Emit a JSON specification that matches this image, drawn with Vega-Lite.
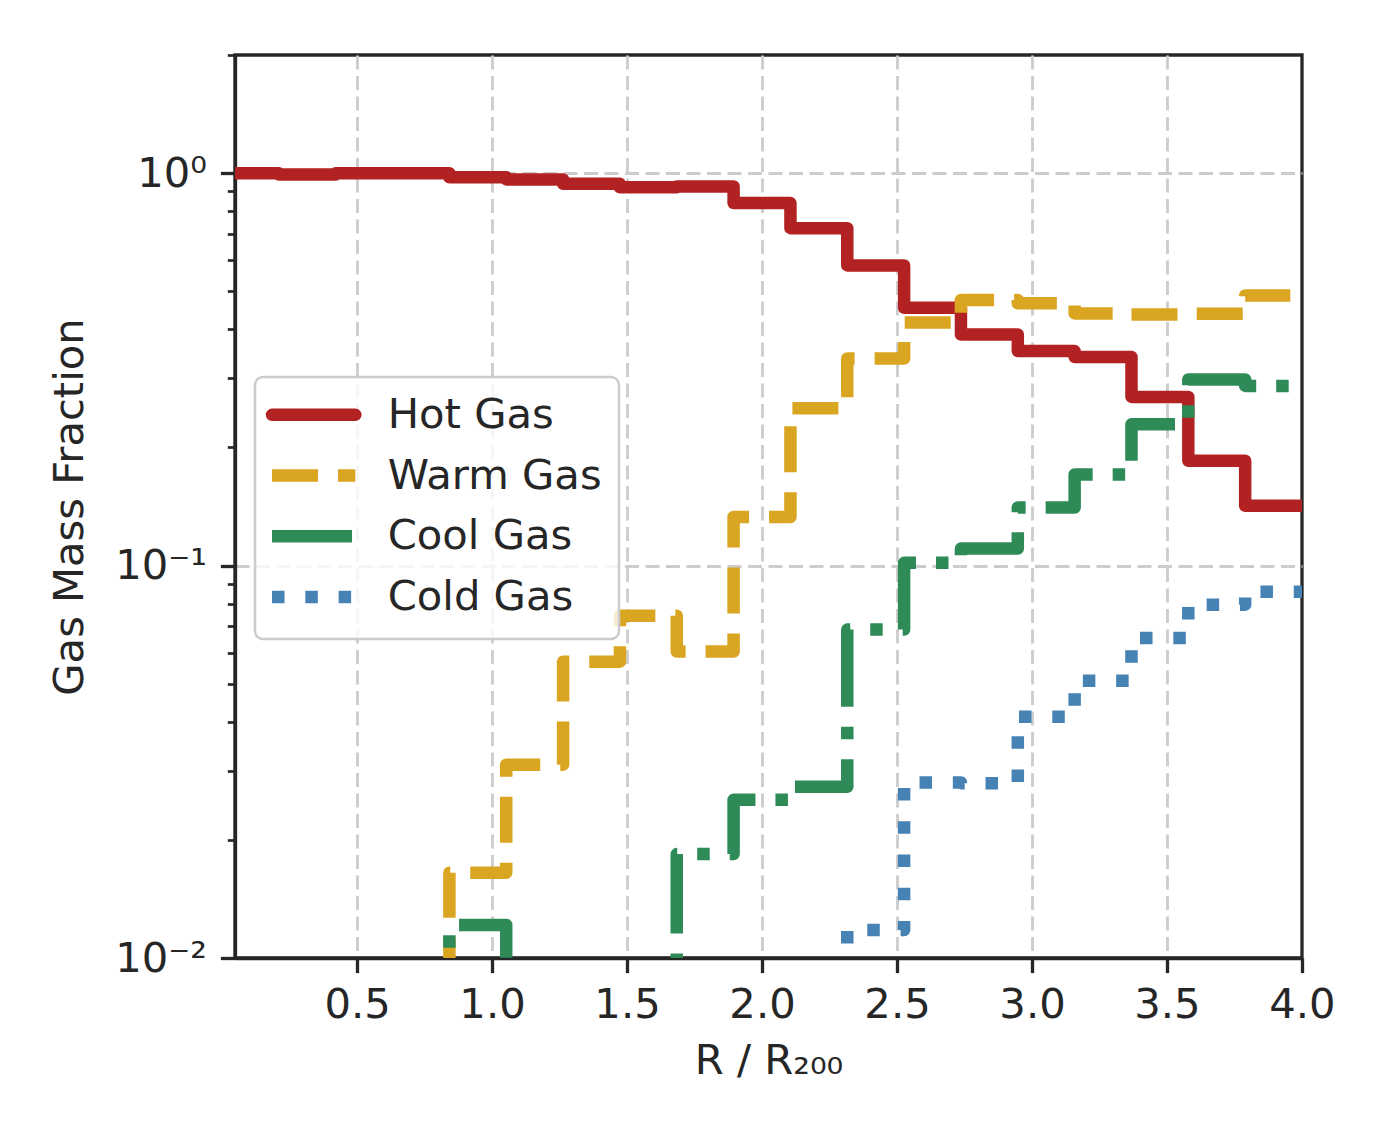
{
  "$schema": "https://vega.github.io/schema/vega-lite/v6.json",
  "width": 1067,
  "height": 903,
  "autosize": {"type": "none"},
  "padding": {"left": 235, "top": 55, "right": 78, "bottom": 182},
  "background": "white",
  "config": {
    "font": "DejaVu Sans",
    "view": {"stroke": "#262626", "strokeWidth": 3.3},
    "axis": {
      "domainColor": "#262626",
      "domainWidth": 3.3,
      "tickColor": "#262626",
      "tickWidth": 3.3,
      "tickSize": 14.6,
      "labelFont": "DejaVu Sans",
      "labelFontSize": 41.7,
      "labelColor": "#262626",
      "labelPadding": 14,
      "labelFlush": false,
      "labelOverlap": false,
      "titleFont": "DejaVu Sans",
      "titleFontSize": 41.7,
      "titleFontWeight": "normal",
      "titleColor": "#262626",
      "gridColor": "#cccccc",
      "gridDash": [14, 6.5],
      "gridWidth": 2.8
    }
  },
  "data": {
    "values": [
      {"series": "Hot Gas", "r": 0, "frac": 1.0},
      {"series": "Hot Gas", "r": 0.2105, "frac": 0.992},
      {"series": "Hot Gas", "r": 0.4211, "frac": 1.0},
      {"series": "Hot Gas", "r": 0.6316, "frac": 1.0},
      {"series": "Hot Gas", "r": 0.8421, "frac": 0.976},
      {"series": "Hot Gas", "r": 1.0526, "frac": 0.964},
      {"series": "Hot Gas", "r": 1.2632, "frac": 0.939},
      {"series": "Hot Gas", "r": 1.4737, "frac": 0.92},
      {"series": "Hot Gas", "r": 1.6842, "frac": 0.925},
      {"series": "Hot Gas", "r": 1.8947, "frac": 0.839},
      {"series": "Hot Gas", "r": 2.1053, "frac": 0.724},
      {"series": "Hot Gas", "r": 2.3158, "frac": 0.582},
      {"series": "Hot Gas", "r": 2.5263, "frac": 0.454},
      {"series": "Hot Gas", "r": 2.7368, "frac": 0.388},
      {"series": "Hot Gas", "r": 2.9474, "frac": 0.352},
      {"series": "Hot Gas", "r": 3.1579, "frac": 0.34},
      {"series": "Hot Gas", "r": 3.3684, "frac": 0.269},
      {"series": "Hot Gas", "r": 3.5789, "frac": 0.185},
      {"series": "Hot Gas", "r": 3.7895, "frac": 0.142},
      {"series": "Hot Gas", "r": 4.0, "frac": 0.142},

      {"series": "Warm Gas", "r": 0, "frac": 0.001},
      {"series": "Warm Gas", "r": 0.2105, "frac": 0.001},
      {"series": "Warm Gas", "r": 0.4211, "frac": 0.001},
      {"series": "Warm Gas", "r": 0.6316, "frac": 0.001},
      {"series": "Warm Gas", "r": 0.8421, "frac": 0.0165},
      {"series": "Warm Gas", "r": 1.0526, "frac": 0.0311},
      {"series": "Warm Gas", "r": 1.2632, "frac": 0.0569},
      {"series": "Warm Gas", "r": 1.4737, "frac": 0.0745},
      {"series": "Warm Gas", "r": 1.6842, "frac": 0.0604},
      {"series": "Warm Gas", "r": 1.8947, "frac": 0.133},
      {"series": "Warm Gas", "r": 2.1053, "frac": 0.2516},
      {"series": "Warm Gas", "r": 2.3158, "frac": 0.337},
      {"series": "Warm Gas", "r": 2.5263, "frac": 0.416},
      {"series": "Warm Gas", "r": 2.7368, "frac": 0.475},
      {"series": "Warm Gas", "r": 2.9474, "frac": 0.466},
      {"series": "Warm Gas", "r": 3.1579, "frac": 0.439},
      {"series": "Warm Gas", "r": 3.3684, "frac": 0.436},
      {"series": "Warm Gas", "r": 3.5789, "frac": 0.438},
      {"series": "Warm Gas", "r": 3.7895, "frac": 0.488},
      {"series": "Warm Gas", "r": 4.0, "frac": 0.488},

      {"series": "Cool Gas", "r": 0, "frac": 0.001},
      {"series": "Cool Gas", "r": 0.2105, "frac": 0.001},
      {"series": "Cool Gas", "r": 0.4211, "frac": 0.001},
      {"series": "Cool Gas", "r": 0.6316, "frac": 0.001},
      {"series": "Cool Gas", "r": 0.8421, "frac": 0.01214},
      {"series": "Cool Gas", "r": 1.0526, "frac": 0.001},
      {"series": "Cool Gas", "r": 1.2632, "frac": 0.001},
      {"series": "Cool Gas", "r": 1.4737, "frac": 0.001},
      {"series": "Cool Gas", "r": 1.6842, "frac": 0.0184},
      {"series": "Cool Gas", "r": 1.8947, "frac": 0.0253},
      {"series": "Cool Gas", "r": 2.1053, "frac": 0.0273},
      {"series": "Cool Gas", "r": 2.3158, "frac": 0.0687},
      {"series": "Cool Gas", "r": 2.5263, "frac": 0.1016},
      {"series": "Cool Gas", "r": 2.7368, "frac": 0.1105},
      {"series": "Cool Gas", "r": 2.9474, "frac": 0.1406},
      {"series": "Cool Gas", "r": 3.1579, "frac": 0.1706},
      {"series": "Cool Gas", "r": 3.3684, "frac": 0.229},
      {"series": "Cool Gas", "r": 3.5789, "frac": 0.298},
      {"series": "Cool Gas", "r": 3.7895, "frac": 0.287},
      {"series": "Cool Gas", "r": 4.0, "frac": 0.287},

      {"series": "Cold Gas", "r": 0, "frac": 0.001},
      {"series": "Cold Gas", "r": 0.2105, "frac": 0.001},
      {"series": "Cold Gas", "r": 0.4211, "frac": 0.001},
      {"series": "Cold Gas", "r": 0.6316, "frac": 0.001},
      {"series": "Cold Gas", "r": 0.8421, "frac": 0.001},
      {"series": "Cold Gas", "r": 1.0526, "frac": 0.001},
      {"series": "Cold Gas", "r": 1.2632, "frac": 0.001},
      {"series": "Cold Gas", "r": 1.4737, "frac": 0.001},
      {"series": "Cold Gas", "r": 1.6842, "frac": 0.001},
      {"series": "Cold Gas", "r": 1.8947, "frac": 0.001},
      {"series": "Cold Gas", "r": 2.1053, "frac": 0.001},
      {"series": "Cold Gas", "r": 2.3158, "frac": 0.01178},
      {"series": "Cold Gas", "r": 2.5263, "frac": 0.028},
      {"series": "Cold Gas", "r": 2.7368, "frac": 0.0279},
      {"series": "Cold Gas", "r": 2.9474, "frac": 0.0412},
      {"series": "Cold Gas", "r": 3.1579, "frac": 0.0509},
      {"series": "Cold Gas", "r": 3.3684, "frac": 0.0654},
      {"series": "Cold Gas", "r": 3.5789, "frac": 0.0795},
      {"series": "Cold Gas", "r": 3.7895, "frac": 0.0857},
      {"series": "Cold Gas", "r": 4.0, "frac": 0.0857}
    ]
  },
  "encoding": {
    "x": {
      "field": "r",
      "type": "quantitative",
      "scale": {"domain": [0.048, 4.0], "nice": false, "zero": false},
      "axis": {
        "values": [0.5, 1, 1.5, 2, 2.5, 3, 3.5, 4],
        "format": ".1f",
        "title": "R / R₂₀₀",
        "labelPadding": 12,
        "titlePadding": 14,
        "grid": true,
        "gridOpacity": {"condition": {"test": "datum.value === 4", "value": 0}, "value": 1}
      }
    },
    "y": {
      "field": "frac",
      "type": "quantitative",
      "scale": {"type": "log", "domain": [0.01, 2.0], "nice": false},
      "axis": {
        "values": [0.01, 0.02, 0.03, 0.04, 0.05, 0.06, 0.07, 0.08, 0.09, 0.1, 0.2, 0.3, 0.4, 0.5, 0.6, 0.7, 0.8, 0.9, 1, 2],
        "labelExpr": "datum.value === 1 ? '10⁰' : datum.value === 0.1 ? '10⁻¹' : datum.value === 0.01 ? '10⁻²' : ''",
        "title": "Gas Mass Fraction",
        "titlePadding": 23,
        "grid": true,
        "tickSize": {"condition": {"test": "datum.value === 1 || datum.value === 0.1 || datum.value === 0.01", "value": 14.6}, "value": 7.7},
        "tickWidth": {"condition": {"test": "datum.value === 1 || datum.value === 0.1 || datum.value === 0.01", "value": 3.3}, "value": 2.7},
        "gridOpacity": {"condition": {"test": "datum.value === 1 || datum.value === 0.1", "value": 1}, "value": 0}
      }
    },
    "color": {
      "field": "series",
      "type": "nominal",
      "scale": {
        "domain": ["Hot Gas", "Warm Gas", "Cool Gas", "Cold Gas"],
        "range": ["#b22222", "#daa520", "#2e8b57", "#4682b4"]
      },
      "legend": {
        "title": null,
        "orient": "none",
        "legendX": 20,
        "legendY": 322,
        "symbolType": "M -1.5 0 L 4.5 0",
        "symbolSize": 771,
        "symbolStrokeWidth": 12.5,
        "symbolOpacity": 1,
        "labelFont": "DejaVu Sans",
        "labelFontSize": 41.7,
        "labelColor": "#262626",
        "labelOffset": 74,
        "labelLimit": 500,
        "rowPadding": 9.7,
        "padding": 17,
        "strokeColor": "#cccccc",
        "fillColor": "rgba(255,255,255,0.8)",
        "cornerRadius": 8,
        "encode": {
          "symbols": {"update": {"strokeCap": {"signal": "datum.value === 'Hot Gas' ? 'round' : 'butt'"}}},
          "legend": {"update": {"strokeWidth": {"value": 2.5}}}
        }
      }
    },
    "strokeDash": {
      "field": "series",
      "type": "nominal",
      "scale": {
        "domain": ["Hot Gas", "Warm Gas", "Cool Gas", "Cold Gas"],
        "range": [[1, 0], [46, 20], [80, 20, 12.5, 20], [12.5, 20.8]]
      },
      "legend": {
        "title": null,
        "orient": "none",
        "legendX": 20,
        "legendY": 322,
        "symbolType": "M -1.5 0 L 4.5 0",
        "symbolSize": 771,
        "symbolStrokeWidth": 12.5,
        "symbolOpacity": 1,
        "labelFont": "DejaVu Sans",
        "labelFontSize": 41.7,
        "labelColor": "#262626",
        "labelOffset": 74,
        "labelLimit": 500,
        "rowPadding": 9.7,
        "padding": 17,
        "strokeColor": "#cccccc",
        "fillColor": "rgba(255,255,255,0.8)",
        "cornerRadius": 8,
        "encode": {
          "symbols": {"update": {"strokeCap": {"signal": "datum.value === 'Hot Gas' ? 'round' : 'butt'"}}},
          "legend": {"update": {"strokeWidth": {"value": 2.5}}}
        }
      }
    }
  },
  "layer": [
    {
      "transform": [{"filter": "datum.series === 'Hot Gas'"}],
      "mark": {"type": "line", "interpolate": "step-after", "strokeWidth": 12.5, "strokeCap": "round", "strokeJoin": "round", "clip": true}
    },
    {
      "transform": [{"filter": "datum.series === 'Warm Gas'"}],
      "mark": {"type": "line", "interpolate": "step-after", "strokeWidth": 12.5, "strokeCap": "butt", "strokeJoin": "round", "clip": true}
    },
    {
      "transform": [{"filter": "datum.series === 'Cool Gas'"}],
      "mark": {"type": "line", "interpolate": "step-after", "strokeWidth": 12.5, "strokeCap": "butt", "strokeJoin": "round", "clip": true}
    },
    {
      "transform": [{"filter": "datum.series === 'Cold Gas'"}],
      "mark": {"type": "line", "interpolate": "step-after", "strokeWidth": 12.5, "strokeCap": "butt", "strokeJoin": "round", "clip": true}
    }
  ]
}
